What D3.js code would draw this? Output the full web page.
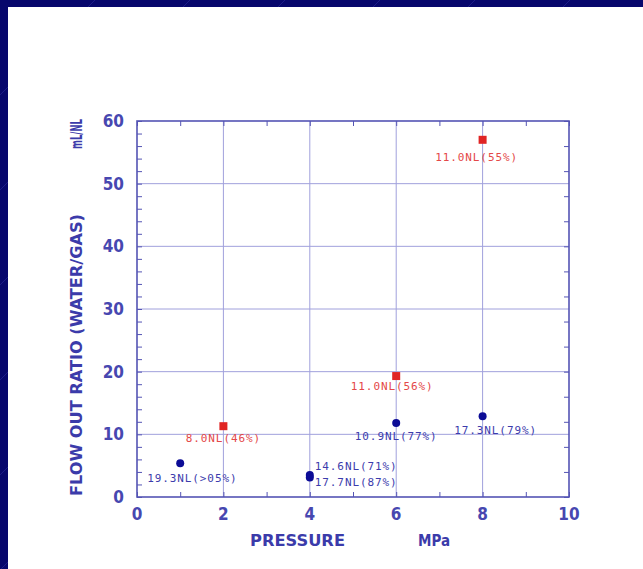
<!DOCTYPE html>
<html>
<head>
<meta charset="utf-8">
<script src="https://cdn.jsdelivr.net/npm/d3@7"></script>
<style>
  html, body { margin: 0; padding: 0; background: #07076c; }
  svg { display: block; }
</style>
</head>
<body>
<svg id="chart" width="643" height="569"></svg>
<script>
// Flow-out ratio (water/gas) against pressure
const xTicks = [0, 2, 4, 6, 8, 10];
const yTicks = [0, 10, 20, 30, 40, 50, 60];

const redPressure = [2, 6, 8];
const redRatio = [11.3, 19.3, 57.0];
const redLabels = ["8.0NL(46%)", "11.0NL(56%)", "11.0NL(55%)"];

const bluePressure = [1, 4, 4, 6, 8];
const blueRatio = [5.4, 3.5, 3.1, 11.8, 12.9];
const blueLabels = ["19.3NL(>05%)", "14.6NL(71%)", "17.7NL(87%)", "10.9NL(77%)", "17.3NL(79%)"];

// label placement relative to each point: [dx, dy, anchor]
const redPlace = [[0, 16, "middle"], [-4, 14, "middle"], [-6, 21, "middle"]];
const bluePlace = [[-33, 19, "start"], [5, -5, "start"], [5, 8, "start"], [0, 17, "middle"], [13, 18, "middle"]];

const svg = d3.select("#chart");

// slide background: navy with faint diagonal streaks, white panel
const bg = svg.append("g");
bg.append("rect").attr("width", 643).attr("height", 569).attr("fill", "#07076c");
const streaks = d3.range(-600, 700, 95);
bg.selectAll("line.streak").data(streaks).join("line")
  .attr("x1", d => d).attr("y1", 600)
  .attr("x2", d => d + 600).attr("y2", 0)
  .attr("stroke", "#3434a4").attr("stroke-width", 0.8).attr("opacity", 0.6);
bg.append("rect").attr("x", 8).attr("y", 7).attr("width", 635).attr("height", 562).attr("fill", "#ffffff");

const plot = { left: 137, right: 569, top: 121, bottom: 497 };
const x = d3.scaleLinear().domain([0, 10]).range([plot.left, plot.right]);
const y = d3.scaleLinear().domain([0, 60]).range([plot.bottom, plot.top]);

const frameColor = "#5454b4";
const gridColor = "#a0a0dc";
const textBlue = "#4747b0";

// gridlines
svg.append("g").selectAll("line").data(xTicks.slice(1, -1)).join("line")
  .attr("x1", d => x(d)).attr("x2", d => x(d))
  .attr("y1", plot.top).attr("y2", plot.bottom)
  .attr("stroke", gridColor).attr("stroke-width", 1);
svg.append("g").selectAll("line").data(yTicks.slice(1, -1)).join("line")
  .attr("y1", d => y(d)).attr("y2", d => y(d))
  .attr("x1", plot.left).attr("x2", plot.right)
  .attr("stroke", gridColor).attr("stroke-width", 1);

// axes with inward ticks
const yMinor = d3.range(0, 61, 2);
const xMinor = d3.range(0, 11, 1);
const axisStyle = g => {
  g.select(".domain").remove();
  g.selectAll("line").attr("stroke", frameColor);
};
svg.append("g").attr("transform", `translate(${plot.left},0)`)
  .call(d3.axisRight(y).tickValues(yMinor).tickSize(5).tickFormat(""))
  .call(axisStyle);
svg.append("g").attr("transform", `translate(${plot.right},0)`)
  .call(d3.axisLeft(y).tickValues(yMinor.filter(v => v % 4 === 0)).tickSize(5).tickFormat(""))
  .call(axisStyle);
svg.append("g").attr("transform", `translate(0,${plot.bottom})`)
  .call(d3.axisTop(x).tickValues(xMinor).tickSize(5).tickFormat(""))
  .call(axisStyle);
svg.append("g").attr("transform", `translate(0,${plot.top})`)
  .call(d3.axisBottom(x).tickValues(xMinor).tickSize(5).tickFormat(""))
  .call(axisStyle);

// frame
svg.append("rect")
  .attr("x", plot.left).attr("y", plot.top)
  .attr("width", plot.right - plot.left).attr("height", plot.bottom - plot.top)
  .attr("fill", "none").attr("stroke", frameColor).attr("stroke-width", 1.6);

// tick labels
const tickFont = "'DejaVu Sans Condensed', 'DejaVu Sans', sans-serif";
svg.append("g").selectAll("text").data(yTicks).join("text")
  .attr("x", plot.left - 13).attr("y", d => y(d) + 6)
  .attr("text-anchor", "end")
  .attr("font-family", tickFont).attr("font-weight", "bold").attr("font-size", 17)
  .attr("fill", textBlue).text(d => d);
svg.append("g").selectAll("text").data(xTicks).join("text")
  .attr("x", d => x(d)).attr("y", plot.bottom + 23)
  .attr("text-anchor", "middle")
  .attr("font-family", tickFont).attr("font-weight", "bold").attr("font-size", 17)
  .attr("fill", textBlue).text(d => d);

// axis titles
svg.append("text")
  .attr("transform", `translate(82,${(497 + 213) / 2}) rotate(-90)`)
  .attr("text-anchor", "middle")
  .attr("font-family", tickFont).attr("font-weight", "bold").attr("font-size", 15)
  .attr("textLength", 282).attr("lengthAdjust", "spacingAndGlyphs")
  .attr("fill", "#3b3baa").text("FLOW OUT RATIO (WATER/GAS)");
svg.append("text")
  .attr("transform", `translate(82,134) rotate(-90)`)
  .attr("text-anchor", "middle")
  .attr("font-family", tickFont).attr("font-weight", "bold").attr("font-size", 15)
  .attr("textLength", 30).attr("lengthAdjust", "spacingAndGlyphs")
  .attr("fill", "#3b3baa").text("mL/NL");
svg.append("text")
  .attr("x", 250).attr("y", 546)
  .attr("font-family", tickFont).attr("font-weight", "bold").attr("font-size", 15)
  .attr("textLength", 95).attr("lengthAdjust", "spacingAndGlyphs")
  .attr("fill", "#3b3baa").text("PRESSURE");
svg.append("text")
  .attr("x", 418).attr("y", 546)
  .attr("font-family", tickFont).attr("font-weight", "bold").attr("font-size", 15)
  .attr("fill", "#3b3baa").text("MPa");

// data points
const red = redPressure.map((p, i) => ({ p, r: redRatio[i], label: redLabels[i], place: redPlace[i] }));
const blue = bluePressure.map((p, i) => ({ p, r: blueRatio[i], label: blueLabels[i], place: bluePlace[i] }));

svg.append("g").selectAll("rect").data(red).join("rect")
  .attr("x", d => x(d.p) - 4).attr("y", d => y(d.r) - 4)
  .attr("width", 8).attr("height", 8)
  .attr("fill", "#e02424");
svg.append("g").selectAll("circle").data(blue).join("circle")
  .attr("cx", d => x(d.p)).attr("cy", d => y(d.r)).attr("r", 4)
  .attr("fill", "#0c0c96");

const labelFont = "'DejaVu Sans Mono', 'Liberation Mono', monospace";
svg.append("g").selectAll("text").data(red).join("text")
  .attr("x", d => x(d.p) + d.place[0]).attr("y", d => y(d.r) + d.place[1])
  .attr("text-anchor", d => d.place[2])
  .attr("font-family", labelFont).attr("font-size", 11).attr("letter-spacing", 0.9)
  .attr("fill", "#e44848").text(d => d.label);
svg.append("g").selectAll("text").data(blue).join("text")
  .attr("x", d => x(d.p) + d.place[0]).attr("y", d => y(d.r) + d.place[1])
  .attr("text-anchor", d => d.place[2])
  .attr("font-family", labelFont).attr("font-size", 11).attr("letter-spacing", 0.9)
  .attr("fill", "#3c3cac").text(d => d.label);
</script>
</body>
</html>
